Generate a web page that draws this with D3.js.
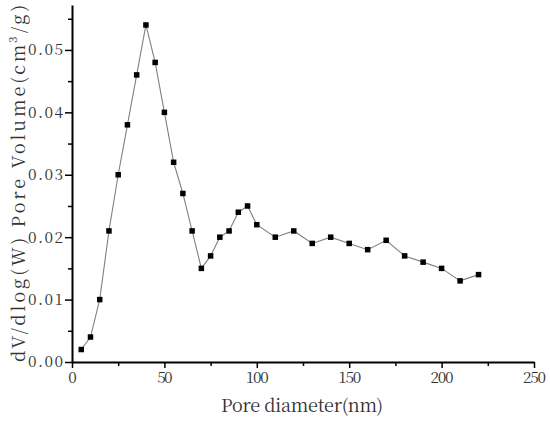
<!DOCTYPE html>
<html>
<head>
<meta charset="utf-8">
<script src="https://cdn.jsdelivr.net/npm/d3@7"></script>
<style>
  html, body { margin: 0; padding: 0; background: #fff; }
  svg { display: block; }
</style>
</head>
<body>
<svg id="chart" width="550" height="422"></svg>
<script>
// Data
const poreDiameter = [5, 10, 15, 20, 25, 30, 35, 40, 45, 50, 55, 60, 65, 70, 75, 80, 85, 90, 95, 100,
                      110, 120, 130, 140, 150, 160, 170, 180, 190, 200, 210, 220];
const poreVolume = [0.002, 0.004, 0.010, 0.021, 0.030, 0.038, 0.046, 0.054, 0.048, 0.040, 0.032, 0.027,
                    0.021, 0.015, 0.017, 0.020, 0.021, 0.024, 0.025, 0.022, 0.020, 0.021, 0.019, 0.020,
                    0.019, 0.018, 0.0195, 0.017, 0.016, 0.015, 0.013, 0.014];
const xTicks = [0, 50, 100, 150, 200, 250];
const xMinorTicks = [25, 75, 125, 175, 225];
const yTicks = [0, 0.01, 0.02, 0.03, 0.04, 0.05];
const yMinorTicks = [0.005, 0.015, 0.025, 0.035, 0.045, 0.055];
const xTitle = "Pore diameter(nm)";
const yTitle = "dV/dlog(W) Pore Volume(cm³/g)";

const svg = d3.select("#chart");
const x = d3.scaleLinear().domain([0, 250]).range([72, 534]);
const y = d3.scaleLinear().domain([0, 0.0572]).range([362, 5]);

const font = "'Noto Serif CJK SC', 'Liberation Serif', serif";
const textColor = "#333";

// X axis
const gx = svg.append("g").attr("transform", `translate(0,${y(0)})`)
  .call(d3.axisBottom(x).tickValues(xTicks).tickFormat(d3.format("d")).tickSize(6).tickSizeOuter(0).tickPadding(4));
gx.append("g").call(d3.axisBottom(x).tickValues(xMinorTicks).tickFormat("").tickSize(4).tickSizeOuter(0))
  .select(".domain").remove();

// Y axis
const gy = svg.append("g").attr("transform", `translate(${x(0)},0)`)
  .call(d3.axisLeft(y).tickValues(yTicks).tickFormat(d3.format(".2f")).tickSize(7).tickSizeOuter(0).tickPadding(2));
gy.append("g").call(d3.axisLeft(y).tickValues(yMinorTicks).tickFormat("").tickSize(4).tickSizeOuter(0))
  .select(".domain").remove();

[gx, gy].forEach(g => {
  g.attr("font-family", null);
  g.selectAll(".domain").attr("stroke", "#000").attr("stroke-width", 2);
  g.selectAll(".tick line").attr("stroke", "#000").attr("stroke-width", 1.5);
  g.selectAll(".tick text").style("font-family", font).style("font-size", "15.5px").attr("fill", textColor);
});
gy.selectAll(".tick text").attr("textLength", 35).attr("lengthAdjust", "spacing");
gx.selectAll(".tick text").attr("textLength", d => String(d).length * 7.7).attr("lengthAdjust", "spacing");

// Line
const line = d3.line().x((d, i) => x(poreDiameter[i])).y(d => y(d));
svg.append("path").datum(poreVolume)
  .attr("d", line).attr("fill", "none").attr("stroke", "#808080").attr("stroke-width", 1.1);

// Markers
svg.append("g").selectAll("rect").data(poreVolume).join("rect")
  .attr("x", (d, i) => x(poreDiameter[i]) - 2.75)
  .attr("y", d => y(d) - 2.75)
  .attr("width", 5.5).attr("height", 5.5).attr("fill", "#000");

// Titles
svg.append("text").attr("x", 221).attr("y", 412)
  .style("font-family", font).style("font-size", "18px").attr("fill", textColor)
  .attr("textLength", 162).attr("lengthAdjust", "spacing").text(xTitle);

svg.append("text").attr("transform", "translate(25,362) rotate(-90)")
  .style("font-family", font).style("font-size", "18px").attr("fill", textColor)
  .attr("textLength", 357).attr("lengthAdjust", "spacing").text(yTitle);
</script>
</body>
</html>
